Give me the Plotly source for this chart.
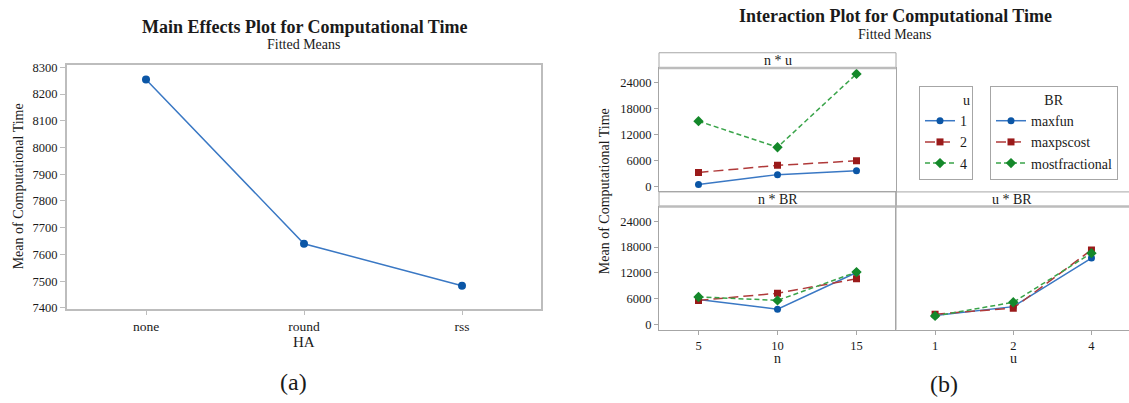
import plotly.graph_objects as go

# ---------------- data ----------------
ha_levels = ["none", "round", "rss"]
ha_means = [8254, 7640, 7483]
grand_mean = 7793
left_yticks = [7400, 7500, 7600, 7700, 7800, 7900, 8000, 8100, 8200, 8300]

n_levels = ["5", "10", "15"]
u_levels = ["1", "2", "4"]
br_levels = ["maxfun", "maxpscost", "mostfractional"]

nu_u1 = [400, 2700, 3600]
nu_u2 = [3200, 4850, 5900]
nu_u4 = [15100, 9050, 26050]

nbr_maxfun = [5850, 3600, 12100]
nbr_maxpscost = [5650, 7300, 10650]
nbr_mostfrac = [6450, 5650, 12200]

ubr_maxfun = [2150, 4200, 15450]
ubr_maxpscost = [2450, 3850, 17350]
ubr_mostfrac = [2050, 5200, 16600]

right_yticks = [0, 6000, 12000, 18000, 24000]
right_yticktext = ["0", "6000", "12000", "18000", "24000"]

# ---------------- styles ----------------
W, H = 1129, 403
FONT = "Liberation Serif"
TXT = "#1a1a1a"
GRID = "#a6a6a6"

def px(x):
    return x / W

def py(y):
    return 1 - y / H

series_style = [
    dict(line=dict(color="#3a78c4", width=1.5, dash="solid"),
         marker=dict(symbol="circle", size=7, color="#0b56a6")),
    dict(line=dict(color="#b03a3a", width=1.5, dash="10px,5px"),
         marker=dict(symbol="square", size=7, color="#9a1a1a")),
    dict(line=dict(color="#3aa44a", width=1.5, dash="5px,3px"),
         marker=dict(symbol="diamond", size=8, color="#14882a")),
]

fig = go.Figure()

# ---------------- (a) main effects ----------------
fig.add_trace(go.Scatter(
    x=ha_levels, y=ha_means, mode="lines+markers",
    line=dict(color="#3a78c4", width=1.5),
    marker=dict(symbol="circle", size=8, color="#0b56a6"),
    xaxis="x", yaxis="y", showlegend=False, hoverinfo="x+y"))
fig.add_trace(go.Scatter(
    x=[-0.5, 2.5], y=[grand_mean, grand_mean], mode="lines",
    line=dict(color="#a8a8a8", width=1.5, dash="6px,4px"),
    xaxis="x", yaxis="y", showlegend=False, hoverinfo="skip"))

# ---------------- (b) interaction ----------------
u_series = [nu_u1, nu_u2, nu_u4]
for i, (lvl, vals) in enumerate(zip(u_levels, u_series)):
    fig.add_trace(go.Scatter(
        x=n_levels, y=vals, mode="lines+markers", name=lvl,
        xaxis="x2", yaxis="y2", legend="legend", **series_style[i]))

nbr_series = [nbr_maxfun, nbr_maxpscost, nbr_mostfrac]
for i, (lvl, vals) in enumerate(zip(br_levels, nbr_series)):
    fig.add_trace(go.Scatter(
        x=n_levels, y=vals, mode="lines+markers", name=lvl,
        xaxis="x3", yaxis="y3", legend="legend2", **series_style[i]))

ubr_series = [ubr_maxfun, ubr_maxpscost, ubr_mostfrac]
for i, (lvl, vals) in enumerate(zip(br_levels, ubr_series)):
    fig.add_trace(go.Scatter(
        x=u_levels, y=vals, mode="lines+markers", name=lvl,
        xaxis="x4", yaxis="y4", showlegend=False, **series_style[i]))

tickfont = dict(family=FONT, size=12.5, color=TXT)
common_x = dict(type="category", range=[-0.5, 2.5], showgrid=False, zeroline=False,
                showline=True, linecolor=GRID, linewidth=1, mirror=True,
                ticks="outside", ticklen=4, tickcolor=GRID, tickfont=tickfont)
common_y = dict(showgrid=False, zeroline=False, showline=True, linecolor=GRID,
                linewidth=1, ticks="outside", ticklen=4, tickcolor=GRID,
                tickfont=tickfont, range=[-1150, 27400], tickvals=right_yticks,
                ticktext=right_yticktext)

R_L, R_M, R_R = 659, 896, 1129
TOP_PLOT = (65.7, 192)
BOT_PLOT = (207.7, 334)

legend_font = dict(family=FONT, size=14, color=TXT)

fig.update_layout(
    width=W, height=H, margin=dict(l=0, r=0, t=0, b=0),
    paper_bgcolor="white", plot_bgcolor="white",
    font=dict(family=FONT, color=TXT, size=13),
    xaxis=dict(domain=[px(67), px(541)], type="category", range=[-0.5, 2.5],
               showgrid=False, zeroline=False, showline=True, linecolor="#bdbdbd",
               linewidth=2, mirror=True, ticks="outside", ticklen=4,
               tickcolor="#bdbdbd", tickfont=dict(family=FONT, size=13.5, color=TXT),
               anchor="y"),
    yaxis=dict(domain=[py(313), py(62.7)], range=[7395, 8308], tickvals=left_yticks,
               ticktext=[str(v) for v in left_yticks],
               showgrid=False, zeroline=False, showline=True, linecolor="#bdbdbd",
               linewidth=2, mirror=True, ticks="outside", ticklen=5,
               tickcolor="#bdbdbd", tickfont=dict(family=FONT, size=12.5, color=TXT),
               anchor="x"),
    xaxis2=dict(common_x, domain=[px(R_L), px(R_M)], anchor="y2",
                showticklabels=False, ticks=""),
    yaxis2=dict(common_y, domain=[py(TOP_PLOT[1]), py(TOP_PLOT[0])], anchor="x2",
                mirror=True),
    xaxis3=dict(common_x, domain=[px(R_L), px(R_M)], anchor="y3"),
    yaxis3=dict(common_y, domain=[py(BOT_PLOT[1]), py(BOT_PLOT[0])], anchor="x3",
                mirror=False),
    xaxis4=dict(common_x, domain=[px(R_M), px(R_R)], anchor="y4", range=[-0.5, 2.48],
                mirror=False),
    yaxis4=dict(common_y, domain=[py(BOT_PLOT[1]), py(BOT_PLOT[0])], anchor="x4",
                showticklabels=False, ticks="", mirror=False),
    legend=dict(x=px(919), y=py(84), xanchor="left", yanchor="top",
                bordercolor="#a6a6a6", borderwidth=1, bgcolor="white",
                font=legend_font,
                title=dict(text="u", side="top right", font=legend_font),
                traceorder="normal", itemwidth=30),
    legend2=dict(x=px(990), y=py(84), xanchor="left", yanchor="top",
                 bordercolor="#a6a6a6", borderwidth=1, bgcolor="white",
                 font=legend_font,
                 title=dict(text="BR", side="top center", font=legend_font),
                 traceorder="normal", itemwidth=30),
)

shapes = []
line_style = dict(color=GRID, width=1)
# strip boxes
shapes.append(dict(type="rect", xref="paper", yref="paper",
                   x0=px(R_L), x1=px(R_M), y0=py(65.7), y1=py(50), line=line_style))
shapes.append(dict(type="rect", xref="paper", yref="paper",
                   x0=px(R_L), x1=px(R_M), y0=py(207.7), y1=py(192.7), line=line_style))
shapes.append(dict(type="rect", xref="paper", yref="paper",
                   x0=px(R_M), x1=px(R_R) + 0.01, y0=py(207.7), y1=py(192.7), line=line_style))
# thicker strip separators
for yy in (65.7, 207.7):
    shapes.append(dict(type="line", xref="paper", yref="paper",
                       x0=px(R_L), x1=px(R_R) + 0.01 if yy > 100 else px(R_M),
                       y0=py(yy), y1=py(yy), line=dict(color="#bcbcbc", width=2.5)))
# divider between bottom panels
shapes.append(dict(type="line", xref="paper", yref="paper",
                   x0=px(R_M), x1=px(R_M), y0=py(334), y1=py(192.7), line=line_style))
fig.update_layout(shapes=shapes)

ann = []
def add_text(text, x, y, size, bold=False, angle=0, xanchor="center"):
    ann.append(dict(text=f"<b>{text}</b>" if bold else text, x=px(x), y=py(y),
                    xref="paper", yref="paper", showarrow=False, xanchor=xanchor,
                    yanchor="middle", textangle=angle,
                    font=dict(family=FONT, size=size, color=TXT)))

add_text("Main Effects Plot for Computational Time", 304, 23.5, 18, bold=True)
add_text("Fitted Means", 304, 42, 14)
add_text("Mean of Computational Time", 18, 187, 14, angle=-90)
add_text("HA", 304, 347, 15)
add_text("(a)", 293, 388, 24)

add_text("Interaction Plot for Computational Time", 895, 12, 18, bold=True)
add_text("Fitted Means", 895, 31, 14)
add_text("Mean of Computational Time", 604, 192, 14, angle=-90)
add_text("n * u", 777.5, 58, 14)
add_text("n * BR", 777.5, 200.5, 14)
add_text("u * BR", 1012, 200.5, 14)
add_text("n", 777.5, 364, 14)
add_text("u", 1013, 364, 14)
add_text("(b)", 944, 390, 24)
fig.update_layout(annotations=ann)

fig.write_html("out.html", config={"displayModeBar": False},
               post_script="document.body.style.margin='0px';document.body.style.overflow='hidden';")
